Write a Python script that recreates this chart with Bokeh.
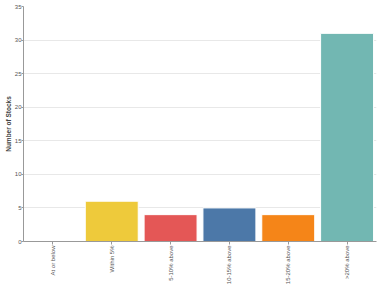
from bokeh.plotting import figure
from bokeh.models import ColumnDataSource
from bokeh.embed import file_html
from bokeh.resources import INLINE
import math

categories = ["At or below", "Within 5%", "5-10% above", "10-15% above", "15-20% above", ">20% above"]
counts = [0, 6, 4, 5, 4, 31]
colors = ["#54A24B", "#EECA3B", "#E45756", "#4C78A8", "#F58518", "#72B7B2"]
y_ticks = [0, 5, 10, 15, 20, 25, 30, 35]

src = ColumnDataSource(dict(cat=categories, n=counts, color=colors))

p = figure(x_range=categories, y_range=(0, 35), width=380, height=287,
           output_backend="svg", toolbar_location=None,
           min_border_top=6, min_border_right=4, min_border_left=23, min_border_bottom=46)
p.vbar(x="cat", top="n", width=0.9, source=src, fill_color="color",
       line_color="white", line_width=1)

p.outline_line_color = None
p.background_fill_color = "white"
p.border_fill_color = "white"

p.xgrid.grid_line_color = None
p.ygrid.grid_line_color = "#e8e8e8"

p.yaxis.axis_label = "Number of Stocks"
p.yaxis.axis_label_text_font = "Liberation Sans"
p.yaxis.axis_label_text_font_size = "6.5px"
p.yaxis.axis_label_text_font_style = "bold"
p.yaxis.axis_label_standoff = 0
p.yaxis.ticker = y_ticks

for ax in (p.xaxis[0], p.yaxis[0]):
    ax.axis_line_color = "#999999"
    ax.major_tick_line_color = "#999999"
    ax.minor_tick_line_color = None
    ax.major_tick_out = 3
    ax.major_tick_in = 0
    ax.major_label_text_font = "Liberation Sans"
    ax.major_label_text_font_size = "6px"
    ax.major_label_text_color = "#555555"
    ax.major_label_standoff = 1

p.yaxis.major_label_standoff = 0
p.yaxis.major_tick_out = 2
p.xaxis.major_label_orientation = math.pi / 2

open("out.html", "w").write(file_html(p, INLINE))
